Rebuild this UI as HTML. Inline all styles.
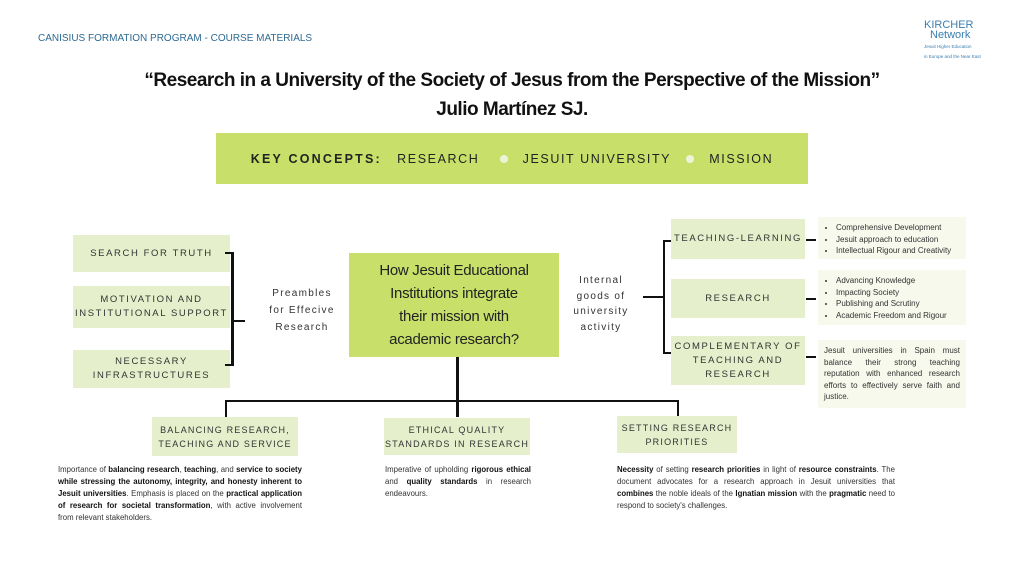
<!DOCTYPE html>
<html><head><meta charset="utf-8"><style>
*{margin:0;padding:0;box-sizing:border-box}
body{width:1024px;height:576px;background:#fff;position:relative;overflow:hidden;font-family:"Liberation Sans",sans-serif;color:#222}
.a{position:absolute}
.box{position:absolute;background:#e6efcc;display:flex;align-items:center;justify-content:center;text-align:center;font-size:9.5px;letter-spacing:1.6px;line-height:14px;color:#333}
.note{position:absolute;background:#f7f9ec;font-size:8px;line-height:11.5px;color:#333}
.note ul{padding-left:18px;margin-top:5px}
.ln{position:absolute;background:#111}
.txt{position:absolute;font-size:7.8px;line-height:12px;color:#333;text-align:justify}
.txt b{color:#111}
</style></head><body>
<div class="a" style="left:38px;top:33px;font-size:10px;color:#2d6a92">CANISIUS FORMATION PROGRAM - COURSE MATERIALS</div>
<div class="a" style="left:924px;top:20px;color:#3a7fb0;font-size:11px;line-height:10px">KIRCHER<br><span style="padding-left:6px">Network</span><br><span style="font-size:4.5px;line-height:5px">Jesuit Higher Education<br>in Europe and the Near East</span></div>
<div class="a" style="left:0;width:1024px;top:66px;text-align:center;font-size:19px;font-weight:bold;line-height:29px;letter-spacing:-0.5px;color:#111">“Research in a University of the Society of Jesus from the Perspective of the Mission”<br>Julio Martínez SJ.</div>
<div class="a" style="left:216px;top:133px;width:592px;height:51px;background:#c8e06a;display:flex;align-items:center;justify-content:center;font-size:12.5px;letter-spacing:1.6px;color:#222">
<b style="letter-spacing:2.2px">KEY CONCEPTS:</b>&nbsp;&nbsp;&nbsp;RESEARCH&nbsp;&nbsp;<span style="display:inline-block;width:8px;height:8px;border-radius:50%;background:#eef3d8;margin:0 10px"></span>&nbsp;JESUIT UNIVERSITY&nbsp;<span style="display:inline-block;width:8px;height:8px;border-radius:50%;background:#eef3d8;margin:0 10px"></span>&nbsp;MISSION</div>

<div class="box" style="left:73px;top:235px;width:157px;height:37px">SEARCH FOR TRUTH</div>
<div class="box" style="left:73px;top:286px;width:157px;height:42px">MOTIVATION AND<br>INSTITUTIONAL SUPPORT</div>
<div class="box" style="left:73px;top:350px;width:157px;height:38px">NECESSARY<br>INFRASTRUCTURES</div>
<div class="ln" style="left:231px;top:252px;width:3px;height:114px"></div>
<div class="ln" style="left:225px;top:252px;width:8px;height:2px"></div>
<div class="ln" style="left:225px;top:364px;width:8px;height:2px"></div>
<div class="ln" style="left:231px;top:320px;width:14px;height:2px"></div>
<div class="a" style="left:262px;top:285px;width:80px;text-align:center;font-size:10px;letter-spacing:1.3px;line-height:17px;color:#333">Preambles<br>for Effecive<br>Research</div>

<div class="a" style="left:349px;top:253px;width:210px;height:104px;background:#c8e06a;display:flex;align-items:center;justify-content:center;text-align:center;font-size:15px;letter-spacing:-0.3px;line-height:23px;color:#222">How Jesuit Educational<br>Institutions integrate<br>their mission with<br>academic research?</div>

<div class="a" style="left:566px;top:273px;width:70px;text-align:center;font-size:10px;letter-spacing:1.3px;line-height:15.5px;color:#333">Internal<br>goods of<br>university<br>activity</div>
<div class="ln" style="left:643px;top:296px;width:22px;height:2px"></div>
<div class="ln" style="left:663px;top:240px;width:2px;height:114px"></div>
<div class="ln" style="left:663px;top:240px;width:9px;height:2px"></div>
<div class="ln" style="left:663px;top:352px;width:9px;height:2px"></div>

<div class="box" style="left:671px;top:219px;width:134px;height:40px">TEACHING-LEARNING</div>
<div class="box" style="left:671px;top:279px;width:134px;height:39px">RESEARCH</div>
<div class="box" style="left:671px;top:336px;width:134px;height:49px">COMPLEMENTARY OF<br>TEACHING AND<br>RESEARCH</div>
<div class="ln" style="left:806px;top:239px;width:10px;height:2px"></div>
<div class="ln" style="left:806px;top:298px;width:10px;height:2px"></div>
<div class="ln" style="left:806px;top:356px;width:10px;height:2px"></div>

<div class="note" style="left:818px;top:217px;width:148px;height:42px"><ul><li>Comprehensive Development</li><li>Jesuit approach to education</li><li>Intellectual Rigour and Creativity</li></ul></div>
<div class="note" style="left:818px;top:270px;width:148px;height:55px"><ul><li>Advancing Knowledge</li><li>Impacting Society</li><li>Publishing and Scrutiny</li><li>Academic Freedom and Rigour</li></ul></div>
<div class="note" style="left:818px;top:340px;width:148px;height:68px;padding:5px 6px;text-align:justify">Jesuit universities in Spain must balance their strong teaching reputation with enhanced research efforts to effectively serve faith and justice.</div>

<div class="ln" style="left:456px;top:357px;width:3px;height:45px"></div>
<div class="ln" style="left:225px;top:400px;width:454px;height:2px"></div>
<div class="ln" style="left:225px;top:400px;width:2px;height:17px"></div>
<div class="ln" style="left:456px;top:400px;width:3px;height:17px"></div>
<div class="ln" style="left:677px;top:400px;width:2px;height:16px"></div>

<div class="box" style="left:152px;top:417px;width:146px;height:39px;font-size:9px;letter-spacing:1.2px">BALANCING RESEARCH,<br>TEACHING AND SERVICE</div>
<div class="box" style="left:384px;top:418px;width:146px;height:37px;font-size:9px;letter-spacing:1.2px">ETHICAL QUALITY<br>STANDARDS IN RESEARCH</div>
<div class="box" style="left:617px;top:416px;width:120px;height:37px;font-size:9px;letter-spacing:1.2px">SETTING RESEARCH<br>PRIORITIES</div>

<div class="txt" style="left:58px;top:464px;width:244px">Importance of <b>balancing research</b>, <b>teaching</b>, and <b>service to society while stressing the autonomy, integrity, and honesty inherent to Jesuit universities</b>. Emphasis is placed on the <b>practical application of research for societal transformation</b>, with active involvement from relevant stakeholders.</div>
<div class="txt" style="left:385px;top:464px;width:146px">Imperative of upholding <b>rigorous ethical</b> and <b>quality standards</b> in research endeavours.</div>
<div class="txt" style="left:617px;top:464px;width:278px">
<b>Necessity</b> of setting <b>research priorities</b> in light of <b>resource constraints</b>. The document advocates for a research approach in Jesuit universities that <b>combines</b> the noble ideals of the <b>Ignatian mission</b> with the <b>pragmatic</b> need to respond to society's challenges.</div>
</body></html>
